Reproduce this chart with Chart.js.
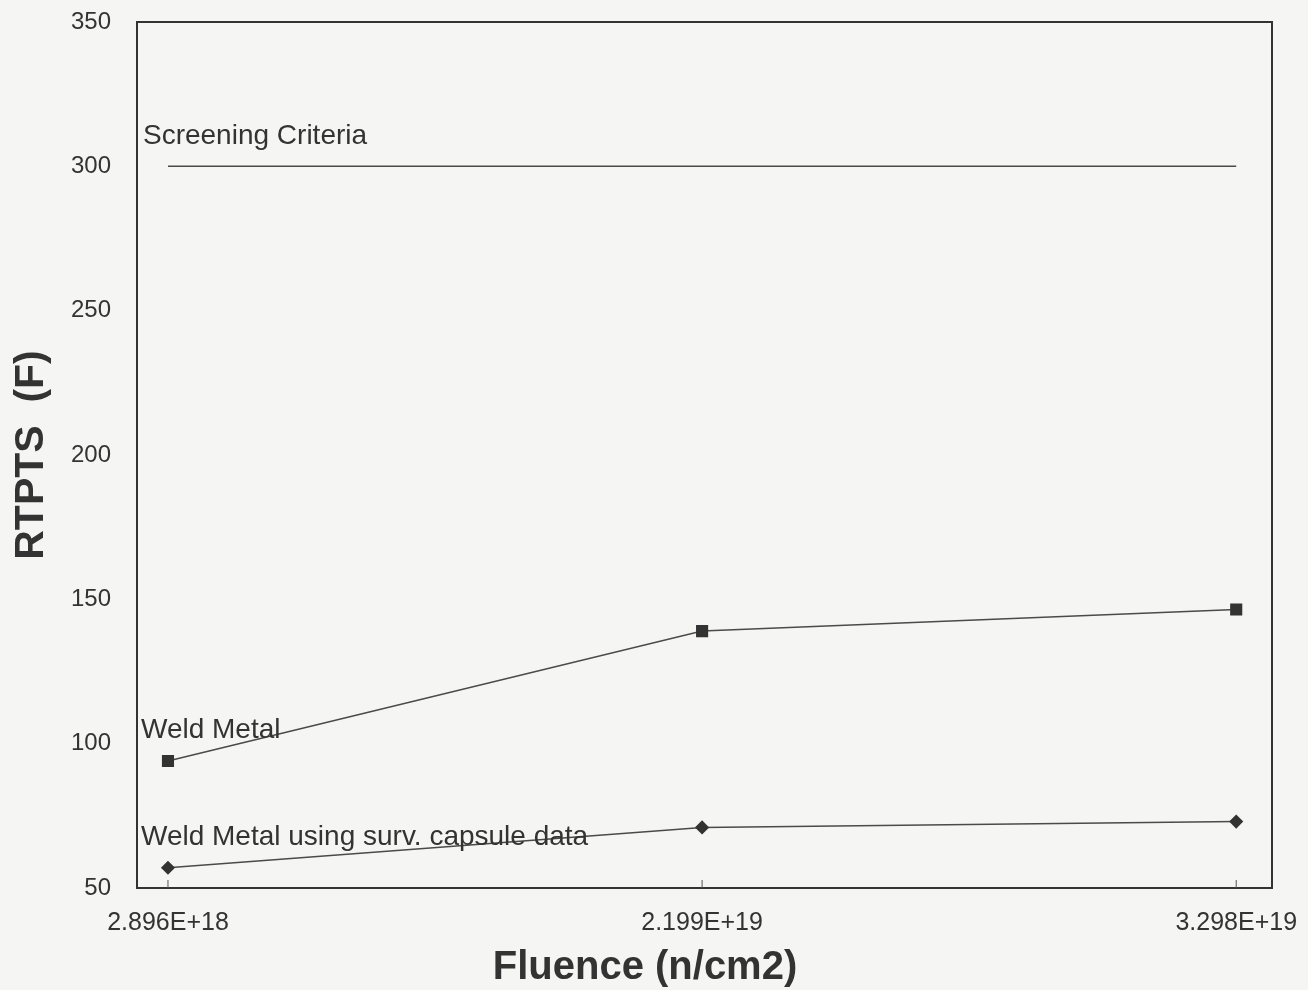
<!DOCTYPE html>
<html>
<head>
<meta charset="utf-8">
<script src="https://cdn.jsdelivr.net/npm/chart.js@4"></script>
<style>
  html, body { margin: 0; padding: 0; background: #f5f5f3; }
  #wrap { width: 1308px; height: 990px; }
</style>
</head>
<body>
<div id="wrap"><canvas id="rtpts-canvas" width="1308" height="990"></canvas></div>
<script>
var fluenceLabels = ['2.896E+18', '2.199E+19', '3.298E+19'];
var screeningValues = [300, 300, 300];
var weldValues = [94, 139, 146.5];
var survValues = [57, 71, 73];
var seriesNames = ['Screening Criteria', 'Weld Metal', 'Weld Metal using surv. capsule data'];
var xTitle = 'Fluence (n/cm2)';

var lineColor = '#4a4a4a';
var textColor = '#333333';
var fontFamily = '"Liberation Sans", Arial, sans-serif';

function toPoints(values) {
    return values.map(function (v, i) { return { x: i, y: v }; });
}

// box round the plot, text labels next to each line, x axis title
var framePlugin = {
    id: 'frame',
    afterDraw: function (chart) {
        var ctx = chart.ctx;
        var a = chart.chartArea;
        ctx.save();
        ctx.strokeStyle = '#333333';
        ctx.lineWidth = 2;
        ctx.strokeRect(a.left, a.top, a.right - a.left, a.bottom - a.top);

        var xs = chart.scales.x, ys = chart.scales.y;
        ctx.font = '28px ' + fontFamily;
        ctx.fillStyle = textColor;
        ctx.textBaseline = 'middle';
        ctx.textAlign = 'left';
        var x0 = xs.getPixelForValue(0) - 25;
        ctx.fillText(seriesNames[0], x0, ys.getPixelForValue(screeningValues[0]) - 30);
        ctx.fillText(seriesNames[1], x0 - 2, ys.getPixelForValue(weldValues[0]) - 31);
        ctx.fillText(seriesNames[2], x0 - 2, ys.getPixelForValue(survValues[0]) - 31);

        // small tick marks on the bottom axis
        ctx.strokeStyle = '#555555';
        ctx.lineWidth = 1;
        [0, 1, 2].forEach(function (i) {
            var px = xs.getPixelForValue(i);
            ctx.beginPath();
            ctx.moveTo(px, a.bottom);
            ctx.lineTo(px, a.bottom - 8);
            ctx.stroke();
        });

        ctx.font = 'bold 40px ' + fontFamily;
        ctx.textAlign = 'center';
        ctx.fillText(xTitle, 645, 968);
        ctx.restore();
    }
};

var rtptsChart = new Chart(document.getElementById('rtpts-canvas').getContext('2d'), {
    type: 'line',
    data: {
        datasets: [
            {
                label: seriesNames[0],
                data: toPoints(screeningValues),
                borderColor: lineColor,
                borderWidth: 1.5,
                pointRadius: 0
            },
            {
                label: seriesNames[1],
                data: toPoints(weldValues),
                borderColor: lineColor,
                borderWidth: 1.5,
                pointStyle: 'rect',
                pointRadius: 7.5,
                pointBackgroundColor: '#333333',
                pointBorderColor: '#333333'
            },
            {
                label: seriesNames[2],
                data: toPoints(survValues),
                borderColor: lineColor,
                borderWidth: 1.5,
                pointStyle: 'rectRot',
                pointRadius: 6,
                pointBackgroundColor: '#333333',
                pointBorderColor: '#333333'
            }
        ]
    },
    options: {
        responsive: false,
        animation: false,
        layout: { padding: { top: 22, right: 36, left: 0, bottom: 0 } },
        scales: {
            x: {
                type: 'linear',
                min: -0.058,
                max: 2.067,
                afterBuildTicks: function (scale) {
                    scale.ticks = [0, 1, 2].map(function (v) { return { value: v }; });
                },
                afterFit: function (scale) {
                    scale.height = 102;
                    scale.paddingLeft = 0;
                    scale.paddingRight = 0;
                },
                grid: { display: false },
                border: { display: false },
                ticks: {
                    padding: 12,
                    color: textColor,
                    maxRotation: 0,
                    font: { family: fontFamily, size: 25 },
                    callback: function (value) { return fluenceLabels[value]; }
                },
                title: { display: false }
            },
            y: {
                min: 50,
                max: 350,
                afterFit: function (scale) {
                    scale.width = 137;
                    scale.paddingTop = 0;
                    scale.paddingBottom = 0;
                },
                grid: { display: false },
                border: { display: false },
                ticks: {
                    stepSize: 50,
                    padding: 18,
                    color: textColor,
                    font: { family: fontFamily, size: 24 }
                },
                title: {
                    display: true,
                    text: 'RTPTS  (F)',
                    color: textColor,
                    padding: { top: 7, bottom: 4 },
                    font: { family: fontFamily, size: 41, weight: 'bold' }
                }
            }
        },
        plugins: {
            legend: { display: false },
            tooltip: { enabled: false }
        }
    },
    plugins: [framePlugin]
});
</script>
</body>
</html>
